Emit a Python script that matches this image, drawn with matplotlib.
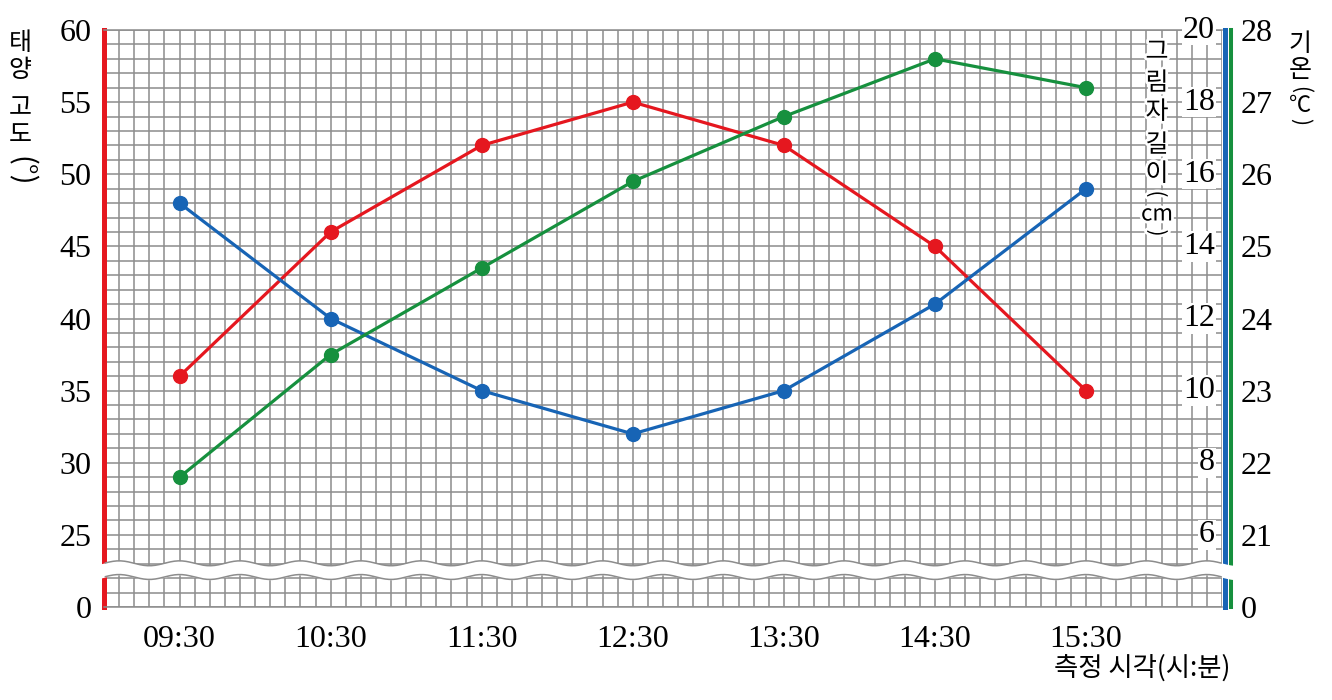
import matplotlib
matplotlib.use("Agg")
import matplotlib.pyplot as plt
import matplotlib.patheffects as pe
import numpy as np

# measurement times (minutes after 09:00) and labels
times = [30, 90, 150, 210, 270, 330, 390]
time_labels = ["09:30", "10:30", "11:30", "12:30", "13:30", "14:30", "15:30"]

# sun altitude (degrees), shadow length (cm), air temperature (C)
sun_altitude = [36, 46, 52, 55, 52, 45, 35]
shadow_length = [15.2, 12.0, 10.0, 8.8, 10.0, 12.4, 15.6]
temperature = [21.8, 23.5, 24.7, 25.9, 26.8, 27.6, 27.2]

alt_ticks = [20, 25, 30, 35, 40, 45, 50, 55, 60]
alt_labels = ["0", "25", "30", "35", "40", "45", "50", "55", "60"]
shadow_ticks = [6, 8, 10, 12, 14, 16, 18, 20]
temp_ticks = [20, 21, 22, 23, 24, 25, 26, 27, 28]
temp_labels = ["0", "21", "22", "23", "24", "25", "26", "27", "28"]

RED = "#e5171f"
BLUE = "#1764b5"
GREEN = "#16903e"
GRID = "#8c8c8c"
SERIF = "Liberation Serif"
KR = ["Noto Sans CJK KR", "DejaVu Sans"]

W, H = 1332, 700
fig = plt.figure(figsize=(W / 100, H / 100), dpi=100)
L, R, T, B = 104, 1222, 30, 607
ax = fig.add_axes([L / W, 1 - B / H, (R - L) / W, (B - T) / H])
ax.set_xlim(0, 444)
ax.set_ylim(20, 60)

# fine graph paper grid
ax.set_xticks(np.arange(0, 445, 6), minor=True)
ax.set_yticks(np.arange(20, 61, 1), minor=True)
ax.set_xticks(times, labels=time_labels)
ax.set_yticks(alt_ticks, labels=alt_labels)
ax.grid(which="both", color=GRID, linewidth=1.1)
ax.set_axisbelow(True)
ax.tick_params(which="both", length=0)
ax.tick_params(axis="x", pad=13, labelsize=23)
ax.tick_params(axis="y", pad=9, labelsize=23)
for lab in ax.get_xticklabels() + ax.get_yticklabels():
    lab.set_family(SERIF)
ax.spines["left"].set_color(RED)
ax.spines["left"].set_linewidth(3.6)
ax.spines["right"].set_visible(False)
for s in ["top", "bottom"]:
    ax.spines[s].set_color(GRID)
    ax.spines[s].set_linewidth(1.1)

ax2 = ax.twinx()
ax2.set_ylim(4, 20)
ax3 = ax.twinx()
ax3.set_ylim(20, 28)
for a in (ax2, ax3):
    for s in ["left", "top", "bottom"]:
        a.spines[s].set_visible(False)
ax2.spines["right"].set_color(BLUE)
ax2.spines["right"].set_linewidth(3.6)
ax2.spines["right"].set_position(("outward", 2.5))
ax2.set_yticks([])
ax3.spines["right"].set_color(GREEN)
ax3.spines["right"].set_linewidth(2.9)
ax3.spines["right"].set_position(("outward", 6.6))
ax3.set_yticks(temp_ticks, labels=temp_labels)
ax3.tick_params(axis="y", length=0, pad=7, labelsize=23)
for lab in ax3.get_yticklabels():
    lab.set_family(SERIF)

# shadow length labels sit inside the plot, left of the blue axis
for v in shadow_ticks:
    ax2.text(0.9937, v, str(v), transform=ax2.get_yaxis_transform(),
             ha="right", va="center", fontsize=23, family=SERIF,
             bbox=dict(facecolor="white", edgecolor="none", pad=0.5))

# data lines
ax.plot(times, sun_altitude, color=RED, lw=2.3, marker="o", ms=10, zorder=3)
ax2.plot(times, shadow_length, color=BLUE, lw=2.3, marker="o", ms=10, zorder=3)
ax3.plot(times, temperature, color=GREEN, lw=2.3, marker="o", ms=10, zorder=3)

# axis break (wavy white band)
xb = np.linspace(-4, 452, 600)
wave = 0.17 * np.sin(2 * np.pi * xb / 24.0)
upper = 22.93 + wave
lower = 22.18 + wave
inside = (xb >= 0) & (xb <= 444)
ax3.fill_between(xb, lower - 0.12, upper + 0.12, color="white", zorder=20,
                 transform=ax.transData, clip_on=False, lw=0)
ax3.plot(xb[inside], upper[inside] + 0.1, color=GRID, lw=1.1, zorder=21,
         transform=ax.transData)
ax3.plot(xb[inside], lower[inside] - 0.1, color=GRID, lw=1.1, zorder=21,
         transform=ax.transData)


def vtext(x, items, **kw):
    # items: (y pixel, text, fontsize, rotation)
    for y, ch, size, rot in items:
        fig.text(x / W, 1 - y / H, ch, ha="center", va="center",
                 fontsize=size, rotation=rot, family=KR,
                 rotation_mode="anchor", **kw)


# left axis title, stacked vertically; "(°)" turned to read downwards
vtext(20, [(43, "태", 18, 0), (70, "양", 18, 0), (108, "고", 18, 0),
           (135, "도", 18, 0), (171, "(°)", 21, -90)])

# shadow title inside the plot
halo = [pe.withStroke(linewidth=4, foreground="white")]
vtext(1157, [(52, "그", 18, 0), (83, "림", 18, 0), (112, "자", 18, 0),
             (145, "길", 18, 0), (174, "이", 18, 0), (194, "(", 15, -90),
             (214, "cm", 16, 0), (233, ")", 15, -90)], path_effects=halo)

# temperature title
vtext(1300, [(44, "기", 18, 0), (70, "온", 18, 0), (89, "(", 15, -90),
             (105, "℃", 16, 0), (122, ")", 15, -90)])

fig.text(1230 / W, 1 - 668 / H, "측정 시각(시:분)", ha="right", va="center",
         fontsize=19, family=KR)

fig.savefig("out.png", dpi=100, facecolor="white")
